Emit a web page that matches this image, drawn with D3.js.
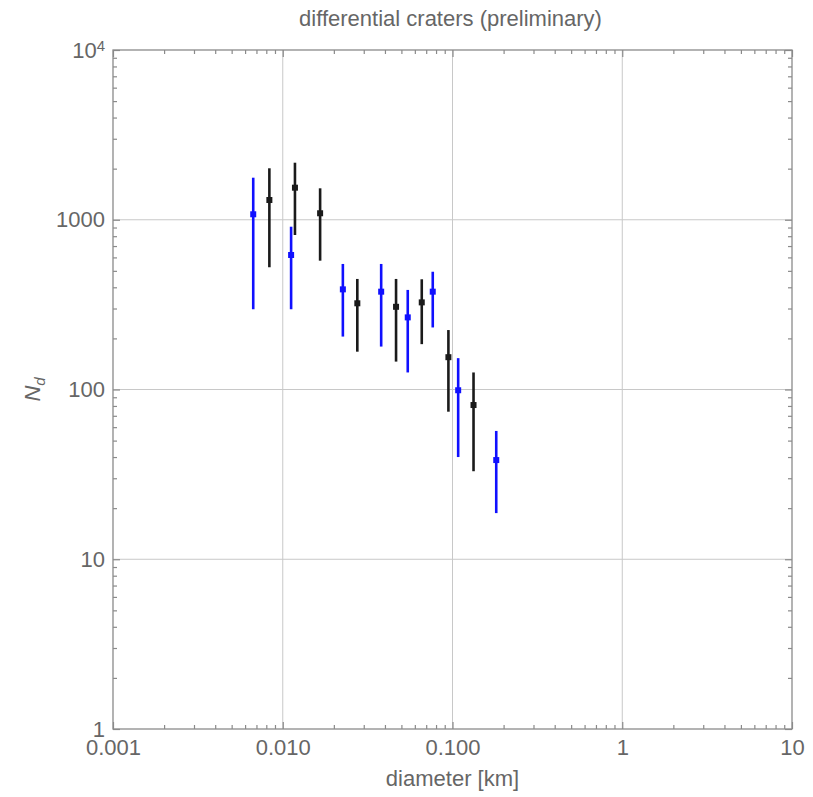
<!DOCTYPE html>
<html>
<head>
<meta charset="utf-8">
<script src="https://cdn.jsdelivr.net/npm/d3@7"></script>
<style>
  body { margin: 0; background: #fff; }
  svg { font-family: "Liberation Sans", Arial, sans-serif; }
  .frame { fill: none; stroke: #8a8a8a; stroke-width: 1.3; }
  .grid line { stroke: #c8c8c8; stroke-width: 1; }
  .axis path { display: none; }
  .axis line { stroke: #8a8a8a; stroke-width: 1.2; }
  .axis text { fill: #666; font-size: 22px; }
</style>
</head>
<body>
<svg id="canvas" width="813" height="797"></svg>
<script>
// Data (diameter in km, N_d with lower/upper error ends)
var blue_d   = [0.0067, 0.0112, 0.0226, 0.0380, 0.0545, 0.0765, 0.108, 0.181];
var blue_n   = [1077, 620, 389, 377, 266, 377, 99, 38.4];
var blue_lo  = [297, 297, 205, 179, 126, 232, 40, 18.7];
var blue_hi  = [1769, 910, 549, 549, 386, 494, 153, 57];

var black_d  = [0.00834, 0.0118, 0.0166, 0.0275, 0.0465, 0.0659, 0.0946, 0.133];
var black_n  = [1307, 1545, 1092, 322, 307, 326, 155, 81];
var black_lo = [525, 813, 574, 167, 146, 185, 74, 33];
var black_hi = [2010, 2168, 1532, 448, 448, 446, 224, 126];

var x_ticks = [0.001, 0.01, 0.1, 1, 10];
var x_labels = ['0.001', '0.010', '0.100', '1', '10'];
var y_ticks = [1, 10, 100, 1000, 10000];
var y_labels = ['1', '10', '100', '1000', '10^4'];

// ************************************************************************************** //
// Layout

var p_left = 113, p_right = 792, p_top = 50, p_bottom = 729;
var svg = d3.select('#canvas');

var x = d3.scaleLog().domain([0.001, 10]).range([p_left, p_right]);
var y = d3.scaleLog().domain([1, 10000]).range([p_bottom, p_top]);

function minorTicks(lo, hi){
  var out = [];
  for(var p = lo; p < hi; p *= 10){
    for(var k = 2; k <= 9; k++){ out.push(p*k); }
  }
  return out;
}
var x_minor = minorTicks(0.001, 10);
var y_minor = minorTicks(1, 10000);

// Grid lines at decades
var grid = svg.append('g').attr('class', 'grid');
x_ticks.slice(1, -1).forEach(function(v){
  grid.append('line').attr('x1', x(v)).attr('x2', x(v)).attr('y1', p_top).attr('y2', p_bottom);
});
y_ticks.slice(1, -1).forEach(function(v){
  grid.append('line').attr('y1', y(v)).attr('y2', y(v)).attr('x1', p_left).attr('x2', p_right);
});

// ************************************************************************************** //
// Axes: inward ticks on all four sides

function addAxis(axisFn, scale, transform, values, size, labels){
  var ax = axisFn(scale).tickValues(values).tickSize(size).tickPadding(7);
  if(labels){ ax.tickFormat(function(d, i){ return labels[i]; }); }
  else { ax.tickFormat(''); }
  return svg.append('g').attr('class', 'axis').attr('transform', transform).call(ax);
}

addAxis(d3.axisBottom, x, 'translate(0,' + p_bottom + ')', x_minor, -4);
var xax = addAxis(d3.axisBottom, x, 'translate(0,' + p_bottom + ')', x_ticks, -7, x_labels);
xax.selectAll('text').attr('y', 26).attr('dy', 0);
addAxis(d3.axisTop, x, 'translate(0,' + p_top + ')', x_minor, -4);
addAxis(d3.axisTop, x, 'translate(0,' + p_top + ')', x_ticks, -7);

addAxis(d3.axisLeft, y, 'translate(' + p_left + ',0)', y_minor, -4);
var yax = addAxis(d3.axisLeft, y, 'translate(' + p_left + ',0)', y_ticks, -7, y_labels);
yax.selectAll('text').attr('x', -8);
addAxis(d3.axisRight, y, 'translate(' + p_right + ',0)', y_minor, -4);
addAxis(d3.axisRight, y, 'translate(' + p_right + ',0)', y_ticks, -7);

// superscript for 10^4
yax.selectAll('text').filter(function(d){ return d == 10000; })
  .text('10').append('tspan').attr('dy', '-0.45em').style('font-size', '15px').text('4');

svg.append('rect').attr('class', 'frame')
  .attr('x', p_left).attr('y', p_top).attr('width', p_right - p_left).attr('height', p_bottom - p_top);

// ************************************************************************************** //
// Error bars and points

function drawSeries(ds, ns, los, his, color){
  var g = svg.append('g');
  ds.forEach(function(d, i){
    g.append('line').attr('x1', x(d)).attr('x2', x(d)).attr('y1', y(los[i])).attr('y2', y(his[i]))
      .style('stroke', color).style('stroke-width', 2.6);
  });
  ds.forEach(function(d, i){
    g.append('rect').attr('x', x(d) - 3).attr('y', y(ns[i]) - 3).attr('width', 6).attr('height', 6)
      .style('fill', color);
  });
}
drawSeries(blue_d, blue_n, blue_lo, blue_hi, '#1010ff');
drawSeries(black_d, black_n, black_lo, black_hi, '#1a1a1a');

// ************************************************************************************** //
// Labels

svg.append('text').attr('x', (p_left + p_right)/2 - 2).attr('y', 26).attr('text-anchor', 'middle')
  .style('fill', '#666').style('font-size', '22px').text('differential craters (preliminary)');

svg.append('text').attr('x', (p_left + p_right)/2).attr('y', 786).attr('text-anchor', 'middle')
  .style('fill', '#666').style('font-size', '22px').text('diameter [km]');

var ylab = svg.append('text').attr('transform', 'translate(40,' + ((p_top + p_bottom)/2) + ') rotate(-90)')
  .attr('text-anchor', 'middle').style('fill', '#666').style('font-size', '22px').style('font-style', 'italic');
ylab.append('tspan').text('N');
ylab.append('tspan').attr('dy', '0.3em').style('font-size', '15px').text('d');
</script>
</body>
</html>
